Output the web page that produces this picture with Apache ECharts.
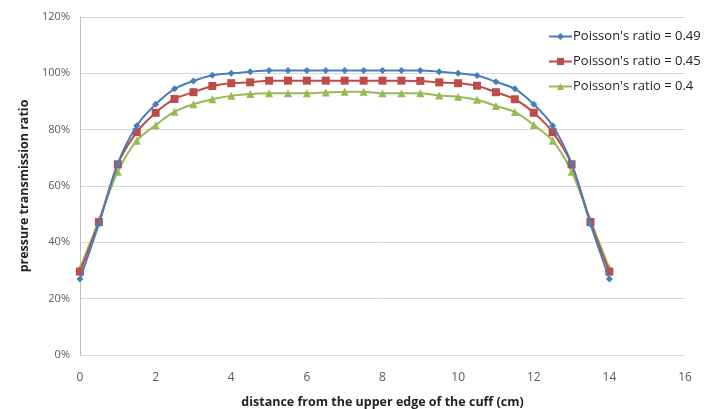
<!DOCTYPE html>
<html>
<head>
<meta charset="utf-8">
<script src="https://cdn.jsdelivr.net/npm/echarts@6/dist/echarts.min.js"></script>
<style>html,body{margin:0;padding:0;background:#fff}#c{width:714px;height:409px}</style>
</head>
<body>
<div id="c"></div>
<script>
const distances = [0,0.5,1,1.5,2,2.5,3,3.5,4,4.5,5,5.5,6,6.5,7,7.5,8,8.5,9,9.5,10,10.5,11,11.5,12,12.5,13,13.5,14];
const ratio049 = [27,46.5,68,81.4,89,94.5,97.3,99.3,100,100.6,101,101,101,101,101,101,101,101,101,100.6,100,99.2,97,94.5,89,81.4,68,46.5,27];
const ratio045 = [29.6,47.2,67.7,79.1,86,90.9,93.3,95.5,96.5,96.8,97.4,97.4,97.4,97.4,97.4,97.4,97.4,97.4,97.3,96.8,96.5,95.6,93.3,90.8,86,79.1,67.7,47.2,29.6];
const ratio040 = [30.8,47.8,65.1,76.1,81.6,86.4,89,90.8,92,92.7,92.9,92.9,92.9,93.2,93.5,93.5,92.9,92.9,92.9,92.1,91.7,90.6,88.4,86.3,81.7,76.1,65.1,47.8,30.8];
const seriesNames = ["Poisson's ratio = 0.49","Poisson's ratio = 0.45","Poisson's ratio = 0.4"];
const xTicks = [0,2,4,6,8,10,12,14,16];
const yTicks = [0,20,40,60,80,100,120];

const pairs = v => distances.map((d,i)=>[d, v[i]/100]);
const chart = echarts.init(document.getElementById('c'));
const colors = ['#4a7ebb','#be4b48','#98b954'];
const symbols = ['diamond','rect','triangle'];
const sizes = [7,8,8];
const vals = [ratio049, ratio045, ratio040];
chart.setOption({
  animation:false,
  color: colors,
  grid:{left:80,right:29,top:17,bottom:54,containLabel:false,outerBoundsMode:'none'},
  legend:{
    orient:'vertical', left:543, top:25, itemGap:12, itemWidth:23, itemHeight:9,
    textStyle:{fontFamily:'Open Sans, sans-serif', fontSize:13, color:'#222', padding:[0,0,0,-4]},
    data: seriesNames
  },
  xAxis:{
    type:'value', min:0, max:16, interval:2,
    name:'distance from the upper edge of the cuff (cm)', nameLocation:'middle', nameGap:41,
    nameTextStyle:{fontFamily:'Open Sans, sans-serif', fontWeight:'bold', fontSize:12.5, color:'#222'},
    axisLine:{show:false}, axisTick:{show:false}, splitLine:{show:false},
    axisLabel:{margin:17, fontFamily:'Open Sans, sans-serif', fontSize:12, color:'#595959',
      formatter: v => xTicks.includes(v) ? String(v) : ''}
  },
  yAxis:{
    type:'value', min:0, max:1.2, interval:0.2,
    name:'pressure transmission ratio', nameLocation:'middle', nameGap:46, nameRotate:90,
    nameTextStyle:{fontFamily:'Open Sans, sans-serif', fontWeight:'bold', fontSize:12.5, color:'#222'},
    axisLine:{show:true, lineStyle:{color:'#bfbfbf'}}, axisTick:{show:false},
    splitLine:{lineStyle:{color:'#d9d9d9', width:1}},
    axisLabel:{margin:10, fontFamily:'Open Sans, sans-serif', fontSize:11, color:'#595959',
      formatter: v => { const p = Math.round(v*100); return yTicks.includes(p) ? p + '%' : ''; }}
  },
  series: seriesNames.map((n,i)=>({
    name:n, type:'line', data: pairs(vals[i]), smooth:0.3,
    symbol: symbols[i], symbolSize: sizes[i], showAllSymbol:true,
    lineStyle:{width:2, color:colors[i]}, itemStyle:{color:colors[i]}, z: 10-i
  }))
});
</script>
</body>
</html>
